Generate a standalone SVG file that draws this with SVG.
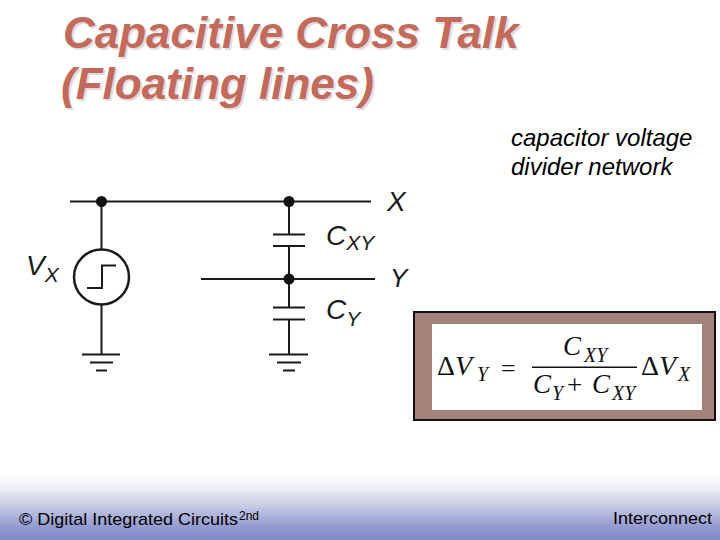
<svg xmlns="http://www.w3.org/2000/svg" width="720" height="540" viewBox="0 0 720 540">
<style>
.w{stroke:#1a1a1a;stroke-width:2;fill:none}
.d{fill:#111}
.t{font-family:"Liberation Sans",Arial,sans-serif;font-style:italic;fill:#1a1a1a}
.s{font-family:"Liberation Serif","Times New Roman",serif;fill:#111}
.i{font-style:italic}
.title{font-family:"Liberation Sans",Arial,sans-serif;font-size:44px;font-weight:bold;font-style:italic;fill:#c26a5c;text-shadow:2px 2px 0 #e6dbd8}
.f{font-family:"Liberation Sans",Arial,sans-serif;fill:#000}
</style>
<defs>
<linearGradient id="bg" x1="0" y1="0" x2="0" y2="1"><stop offset="0" stop-color="#fff"/><stop offset="0.2" stop-color="#f6f6fa"/><stop offset="0.5" stop-color="#c9cde5"/><stop offset="0.8" stop-color="#959cd0"/><stop offset="1" stop-color="#7e87c5"/></linearGradient>
</defs>
<rect width="720" height="540" fill="#fff"/>
<rect y="470" width="720" height="70" fill="url(#bg)"/>
<g id="title">
<text class="title" x="63" y="48">Capacitive Cross Talk</text>
<text class="title" x="61" y="99">(Floating lines)</text>
</g>
<g id="note" class="f" font-size="24" font-style="italic">
<text x="511" y="146">capacitor voltage</text>
<text x="511" y="175">divider network</text>
</g>
<g id="connectors">
<path class="w" d="M70 201.500H371M201 279H375M101.500 201.500V249M101.500 305V354M289 201.500V234.500M289 246V307.500M289 319.500V354"/>
</g>
<g id="junctions">
<circle class="d" cx="101.500" cy="201.500" r="5.500"/>
<circle class="d" cx="289" cy="201.500" r="5.500"/>
<circle class="d" cx="289" cy="279" r="5.500"/>
</g>
<g id="source">
<circle cx="101.500" cy="277" r="27.500" fill="#fff" stroke="#1a1a1a" stroke-width="2.500"/>
<path class="w" d="M87 288H102V265.500H116"/>
<text class="t" x="26" y="275" font-size="28">V<tspan dy="7" font-size="21">X</tspan></text>
</g>
<g id="cxy">
<path class="w" d="M273 234.500H305M273 246H305"/>
<text class="t" x="326" y="245" font-size="28">C<tspan dy="5" font-size="21">XY</tspan></text>
</g>
<g id="cy">
<path class="w" d="M273 307.500H305M273 319.500H305"/>
<text class="t" x="326" y="319" font-size="28">C<tspan dy="7" font-size="21">Y</tspan></text>
</g>
<g id="ground-left"><path class="w" d="M82 354.500H120M90 362.500H113M96 370.500H107"/></g>
<g id="ground-right"><path class="w" d="M269 354.500H308M277 362.500H301M283 370.500H295"/></g>
<g id="label-x"><text class="t" x="387" y="211" font-size="28">X</text></g>
<g id="label-y"><text class="t" x="390" y="287" font-size="26">Y</text></g>
<g id="formula">
<rect x="414" y="312" width="301" height="108" fill="#a2827b" stroke="#111" stroke-width="2"/>
<rect x="432" y="324" width="270" height="86" fill="#fff"/>
<text class="s" x="437" y="375" font-size="28">Δ<tspan class="i">V</tspan></text>
<text class="s i" x="477" y="381" font-size="20">Y</text>
<text class="s" x="501" y="377" font-size="26">=</text>
<text class="s i" x="563" y="355" font-size="27">C</text>
<text class="s i" x="584" y="362" font-size="20">XY</text>
<rect x="532" y="366.500" width="105" height="1.500" fill="#111"/>
<text class="s i" x="533" y="393" font-size="27">C</text>
<text class="s i" x="552" y="400" font-size="20">Y</text>
<text class="s" x="567" y="394" font-size="27">+</text>
<text class="s i" x="592" y="393" font-size="27">C</text>
<text class="s i" x="612" y="400" font-size="20">XY</text>
<text class="s" x="641" y="375" font-size="28">Δ<tspan class="i">V</tspan></text>
<text class="s i" x="678" y="381" font-size="20">X</text>
</g>
<g id="footer" class="f">
<text x="19" y="525" font-size="17" textLength="219" lengthAdjust="spacingAndGlyphs">© Digital Integrated Circuits</text>
<text x="239" y="520" font-size="12">2nd</text>
<text x="613" y="524" font-size="17" textLength="99" lengthAdjust="spacingAndGlyphs">Interconnect</text>
</g>
</svg>
